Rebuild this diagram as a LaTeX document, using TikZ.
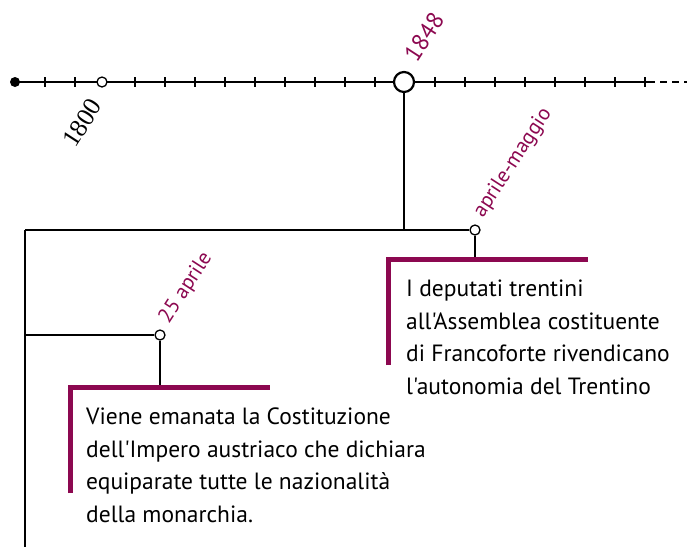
\documentclass[tikz,border=0pt]{standalone}
\usepackage{fontspec}
\setmainfont{PT Sans}
\newfontfamily\bodyfont{PT Sans}
\newfontfamily\serifnum{Liberation Serif}
\definecolor{plum}{RGB}{140,8,80}
\begin{document}
\begin{tikzpicture}[x=1pt,y=-1pt,
  axis/.style={line width=2pt,black},
  tickmark/.style={line width=1.1pt,black},
  conn/.style={line width=2pt,black},
  bar/.style={line width=5pt,plum},
  dotopen/.style={circle,draw=black,fill=white,line width=1.3pt,inner sep=0pt,minimum size=10pt},
  bigopen/.style={circle,draw=black,fill=white,line width=2.2pt,inner sep=0pt,minimum size=20pt},
  dotfill/.style={circle,fill=black,inner sep=0pt,minimum size=10pt},
  datelabel/.style={text=plum,font=\fontsize{21}{24}\selectfont,rotate=57,inner sep=0pt,anchor=center},
  bodytext/.style={font=\bodyfont\fontsize{23.5}{32.5}\selectfont,align=left,inner sep=0pt,anchor=north west}]
\useasboundingbox (0,0) rectangle (687,547);
% axis
\coordinate (axstart) at (15,82);
\coordinate (axend) at (648,82);
\coordinate (axdash) at (687,82);
\draw[axis] (axstart) -- (axend);
\draw[axis,dash pattern=on 7pt off 5pt] (axend) -- (axdash);
\foreach \x in {45,75,135,165,...,375,435,465,...,645}
  \draw[tickmark] (\x,77) -- (\x,87);
\node[dotfill] (start) at (axstart) {};
\node[dotopen] (y1800) at (102,82) {};
\node[bigopen] (y1848) at (404,82) {};
\node[font=\serifnum\fontsize{25.5}{28}\selectfont,rotate=57,inner sep=0pt,anchor=center] (l1800) at (82,123) {1800};
\node[datelabel,font=\fontsize{24}{26}\selectfont] (l1848) at (424,37) {1848};
% branches
\coordinate (j1) at (404,230);
\coordinate (lefttop) at (25,230);
\coordinate (leftbot) at (25,547);
\coordinate (j2) at (25,335);
\node[dotopen] (e1) at (475,230) {};
\node[dotopen] (e2) at (160,335) {};
\draw[conn] (y1848) -- (j1);
\draw[conn] (lefttop) -- (e1);
\draw[conn] (lefttop) -- (leftbot);
\draw[conn] (j2) -- (e2);
\node[datelabel] (la1) at (513,163) {aprile-maggio};
\node[datelabel] (la2) at (186,288) {25 aprile};
% box 1
\coordinate (b1tl) at (388,259);
\coordinate (b1tr) at (588,259);
\coordinate (b1bl) at (388,365);
\coordinate (b1stem) at (475,259);
\draw[conn] (e1) -- (b1stem);
\draw[bar] (b1bl) -- (b1tl) -- (b1tr);
\node[bodytext] (t1) at (406,280) {I deputati trentini\\all'Assemblea costituente\\di Francoforte rivendicano\\l'autonomia del Trentino};
% box 2
\coordinate (b2tl) at (70,387);
\coordinate (b2tr) at (270,387);
\coordinate (b2bl) at (70,493);
\coordinate (b2stem) at (160,387);
\draw[conn] (e2) -- (b2stem);
\draw[bar] (b2bl) -- (b2tl) -- (b2tr);
\node[bodytext] (t2) at (86,408) {Viene emanata la Costituzione\\dell'Impero austriaco che dichiara\\equiparate tutte le nazionalità\\della monarchia.};
\end{tikzpicture}
\end{document}
